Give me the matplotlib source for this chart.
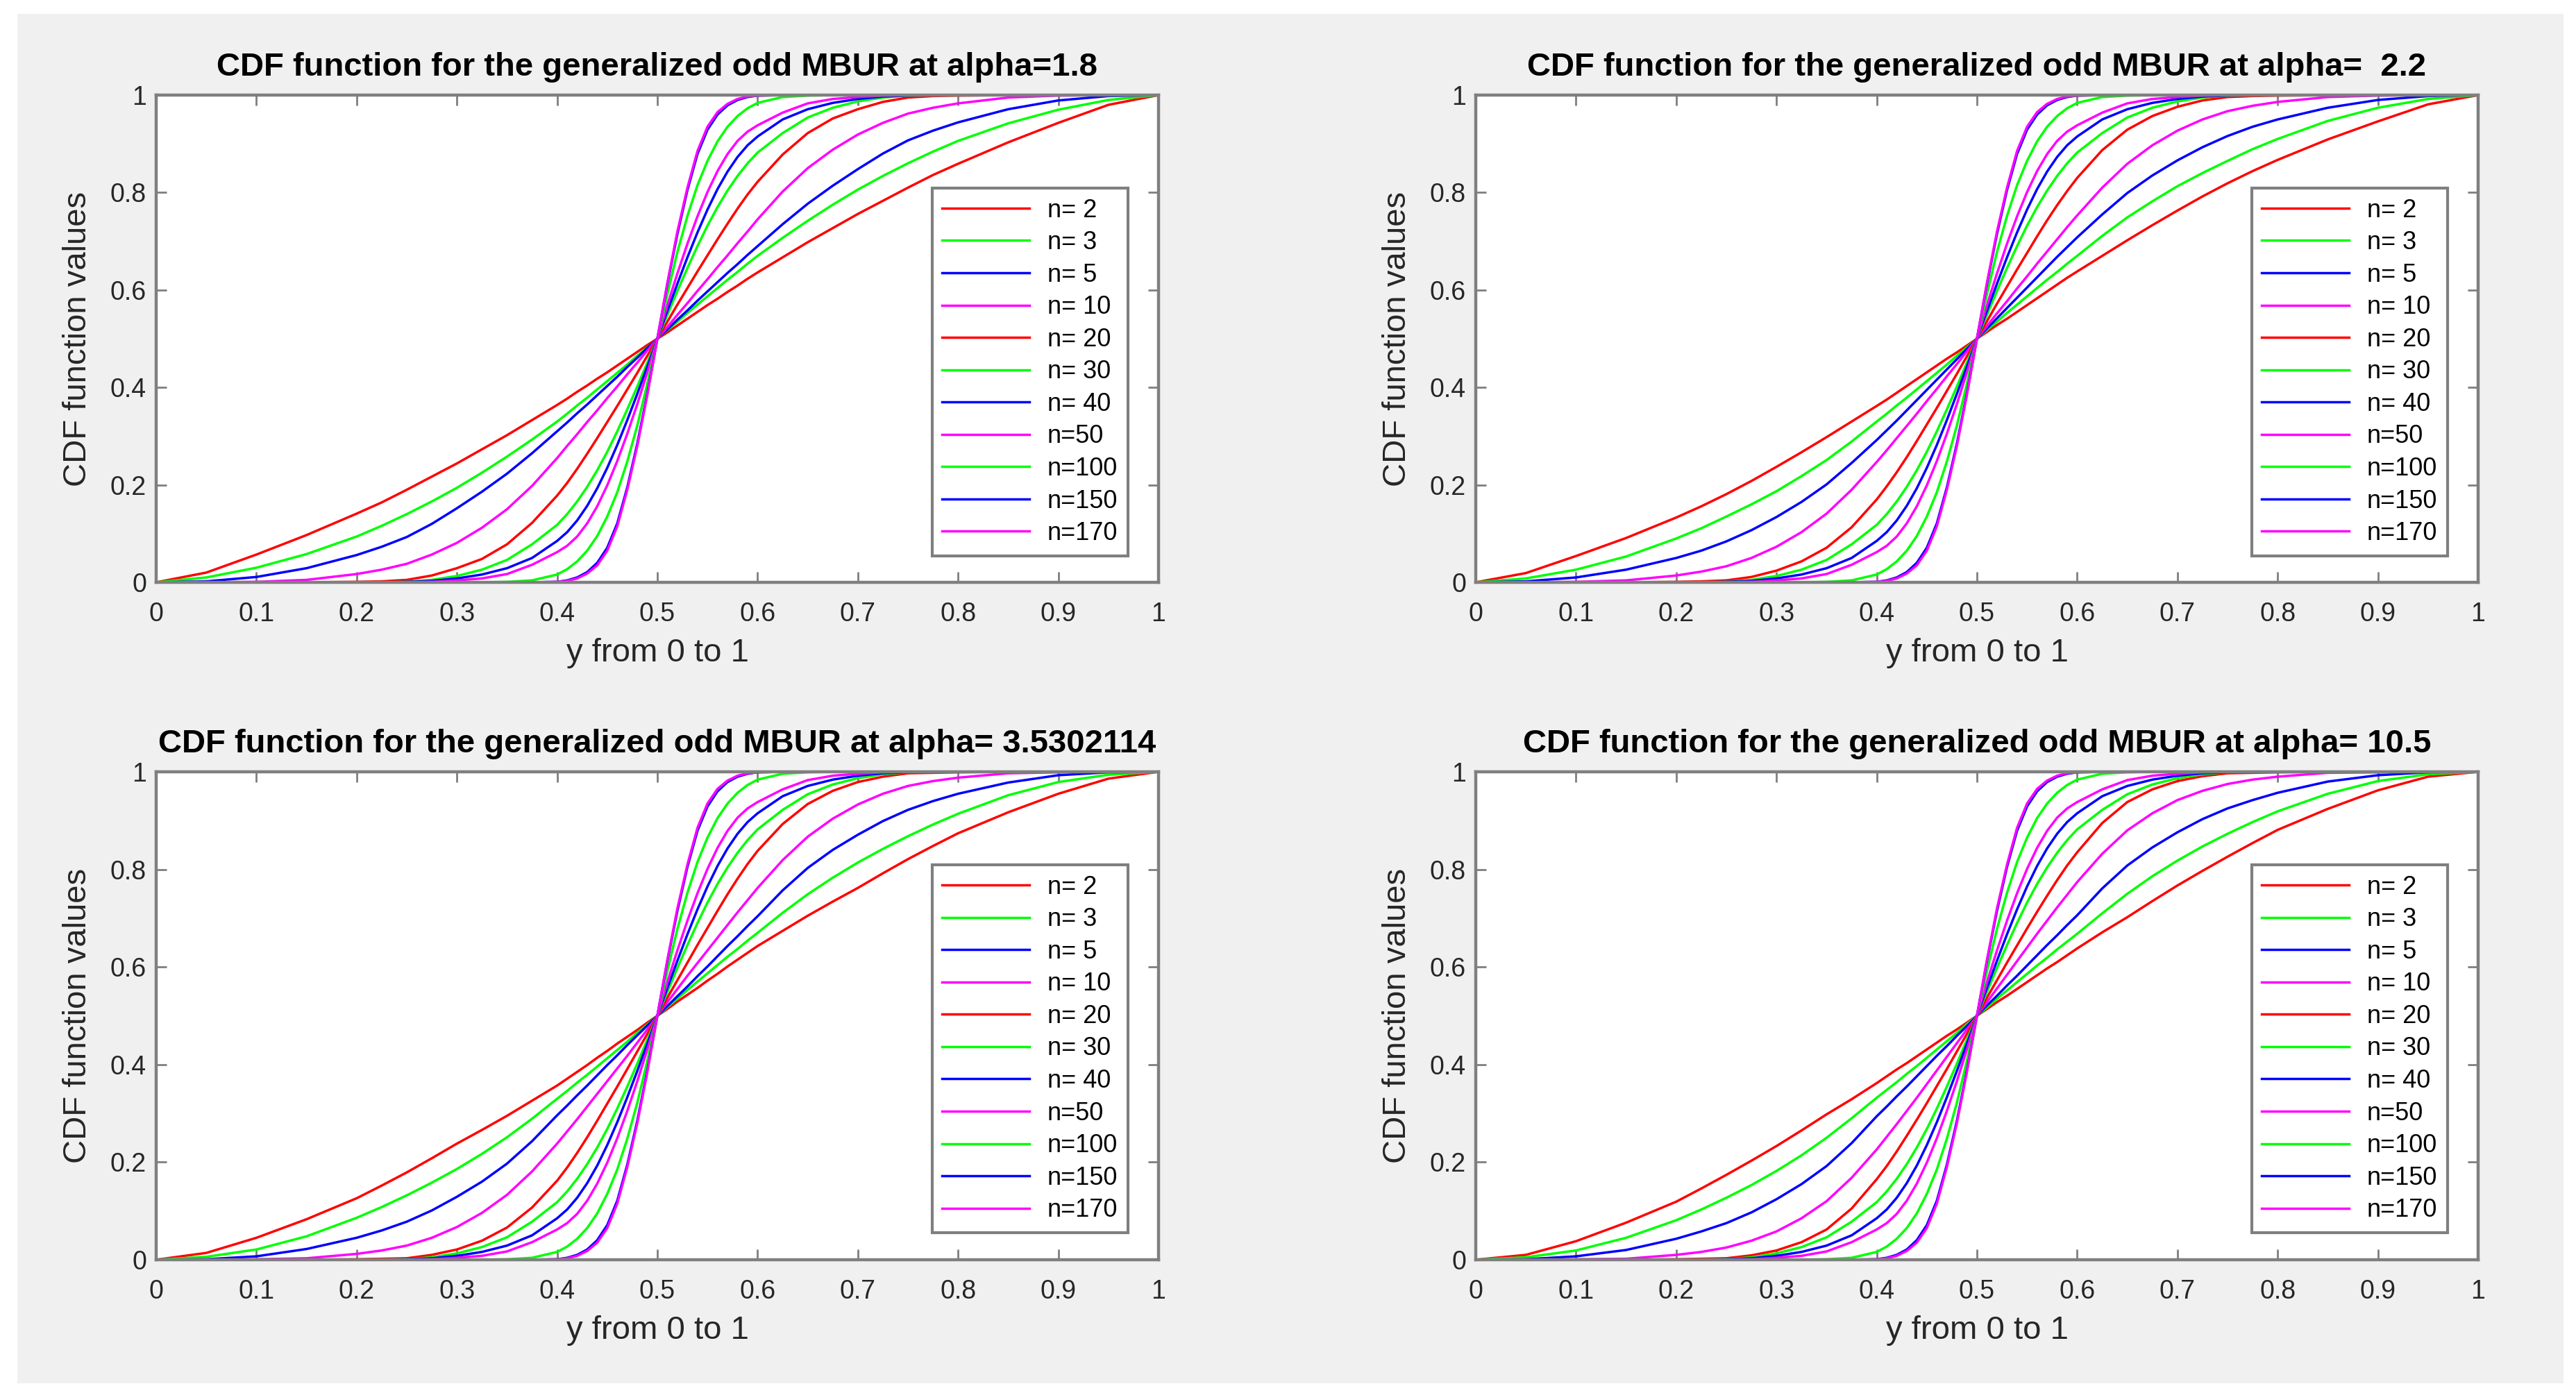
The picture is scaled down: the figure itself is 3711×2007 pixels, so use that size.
import numpy as np
import matplotlib
matplotlib.use('Agg')
import matplotlib.pyplot as plt
from matplotlib.patches import Rectangle

plt.rcParams['font.family'] = ['Liberation Sans', 'DejaVu Sans']

# n values and their MATLAB colours (r g b m cycling)
n_labels = ['n= 2', 'n= 3', 'n= 5', 'n= 10', 'n= 20', 'n= 30', 'n= 40',
            'n=50', 'n=100', 'n=150', 'n=170']
n_colors = ['#ff0000', '#00ff00', '#0000ff', '#ff00ff', '#ff0000', '#00ff00',
            '#0000ff', '#ff00ff', '#00ff00', '#0000ff', '#ff00ff']

titles = ['CDF function for the generalized odd MBUR at alpha=1.8',
          'CDF function for the generalized odd MBUR at alpha=  2.2',
          'CDF function for the generalized odd MBUR at alpha= 3.5302114',
          'CDF function for the generalized odd MBUR at alpha= 10.5']

x_ticks = [0, 0.1, 0.2, 0.3, 0.4, 0.5, 0.6, 0.7, 0.8, 0.9, 1]
x_tick_labels = ['0', '0.1', '0.2', '0.3', '0.4', '0.5', '0.6', '0.7', '0.8', '0.9', '1']
y_ticks = [0, 0.2, 0.4, 0.6, 0.8, 1]
y_tick_labels = ['0', '0.2', '0.4', '0.6', '0.8', '1']

x_half = np.array([0, .05, .1, .15, .2, .225, .25, .275, .3, .325, .35, .375, .4,
                   .41, .42, .43, .44, .45, .46, .47, .48, .49, .5])

# n = 2, 3, 5, 10, 20 -- differ a little between the panels
low_a18 = [
    [0, .020, .057, .097, .141, .164, .190, .217, .244, .273, .302, .333, .364, .377, .391, .404, .418, .431, .445, .459, .473, .487, .5],
    [0, .010, .030, .058, .094, .116, .140, .166, .194, .225, .258, .293, .330, .346, .363, .379, .396, .413, .430, .447, .465, .482, .5],
    [0, .002, .011, .029, .056, .073, .093, .120, .152, .186, .223, .265, .310, .328, .347, .365, .384, .403, .422, .442, .461, .481, .5],
    [0, 0, .001, .005, .017, .026, .038, .057, .081, .112, .150, .198, .255, .280, .304, .329, .353, .378, .402, .427, .451, .476, .5],
    [0, 0, 0, 0, .001, .002, .005, .014, .029, .048, .078, .122, .178, .204, .233, .264, .296, .329, .362, .396, .430, .465, .5],
]
low_a22 = [
    [0, .019, .054, .091, .133, .156, .181, .208, .237, .267, .298, .330, .362, .375, .389, .403, .417, .431, .445, .459, .472, .486, .5],
    [0, .008, .026, .053, .090, .111, .135, .160, .187, .218, .251, .289, .330, .346, .363, .379, .396, .413, .430, .447, .465, .482, .5],
    [0, .002, .010, .026, .050, .065, .084, .107, .134, .165, .201, .245, .292, .312, .332, .353, .374, .395, .416, .437, .458, .479, .5],
    [0, 0, .001, .004, .014, .022, .033, .050, .073, .103, .141, .190, .247, .271, .296, .321, .346, .372, .397, .423, .448, .474, .5],
    [0, 0, 0, 0, .001, .002, .004, .011, .024, .043, .071, .113, .170, .197, .226, .257, .290, .324, .358, .393, .428, .464, .5],
]
low_a353 = [
    [0, .014, .045, .083, .126, .152, .179, .208, .238, .266, .295, .326, .357, .371, .385, .399, .414, .428, .443, .457, .471, .486, .5],
    [0, .006, .021, .048, .086, .108, .132, .158, .186, .217, .251, .289, .330, .346, .363, .379, .396, .413, .430, .447, .465, .482, .5],
    [0, .001, .007, .022, .045, .060, .078, .101, .129, .160, .197, .243, .296, .316, .337, .357, .378, .399, .419, .440, .460, .480, .5],
    [0, 0, .001, .003, .012, .019, .029, .045, .067, .096, .133, .181, .238, .263, .288, .314, .340, .366, .392, .418, .445, .472, .5],
    [0, 0, 0, 0, .001, .002, .003, .010, .021, .039, .066, .107, .162, .189, .219, .251, .285, .320, .355, .391, .427, .463, .5],
]
low_a105 = [
    [0, .010, .038, .076, .119, .146, .174, .203, .233, .265, .298, .329, .362, .376, .390, .403, .417, .431, .445, .459, .472, .486, .5],
    [0, .005, .019, .045, .081, .103, .127, .153, .182, .214, .250, .290, .332, .348, .364, .381, .397, .414, .431, .448, .465, .483, .5],
    [0, .001, .007, .020, .043, .058, .075, .097, .124, .155, .192, .239, .294, .314, .335, .355, .376, .397, .418, .438, .459, .479, .5],
    [0, 0, .001, .002, .010, .016, .025, .039, .058, .085, .120, .168, .226, .252, .278, .305, .332, .360, .388, .416, .444, .472, .5],
    [0, 0, 0, 0, .001, .002, .003, .009, .019, .036, .062, .105, .165, .192, .222, .254, .287, .321, .356, .391, .427, .463, .5],
]

# n = 30, 40, 50, 100, 150, 170 -- look the same in all four panels
steep = [
    [0, 0, 0, 0, 0, 0, .001, .005, .013, .026, .046, .078, .118, .140, .166, .196, .230, .268, .310, .355, .402, .451, .5],
    [0, 0, 0, 0, 0, 0, .001, .003, .008, .016, .029, .050, .085, .103, .127, .157, .193, .235, .282, .333, .387, .443, .5],
    [0, 0, 0, 0, 0, 0, 0, .001, .004, .008, .017, .036, .062, .075, .094, .121, .156, .199, .249, .305, .366, .431, .5],
    [0, 0, 0, 0, 0, 0, 0, 0, 0, 0, .001, .004, .016, .027, .043, .065, .095, .135, .185, .248, .322, .408, .5],
    [0, 0, 0, 0, 0, 0, 0, 0, 0, 0, 0, 0, .001, .004, .010, .021, .040, .071, .121, .195, .285, .388, .5],
    [0, 0, 0, 0, 0, 0, 0, 0, 0, 0, 0, 0, .001, .003, .008, .018, .035, .065, .115, .190, .280, .385, .5],
]

panels = [low_a18 + steep, low_a22 + steep, low_a353 + steep, low_a105 + steep]


def full_curve(half):
    # the curves are point-symmetric about (0.5, 0.5): mirror the read half
    half = np.asarray(half)
    x = np.concatenate([x_half, 1 - x_half[-2::-1]])
    y = np.concatenate([half, 1 - half[-2::-1]])
    return x, y


W, H = 3712, 2007
fig = plt.figure(figsize=(W / 200, H / 200), dpi=200)
fig.patch.set_facecolor('white')
fig.patches.append(Rectangle((25 / W, 1 - 1993 / H), (3693 - 25) / W, (1993 - 20) / H,
                             transform=fig.transFigure, facecolor='#f0f0f0',
                             edgecolor='none', zorder=-1))

positions = [
    [225 / W, 1 - 839 / H, 1444 / W, 702 / H],
    [2126 / W, 1 - 839 / H, 1444 / W, 702 / H],
    [225 / W, 1 - 1815 / H, 1444 / W, 703 / H],
    [2126 / W, 1 - 1815 / H, 1444 / W, 703 / H],
]

gray = '#7f7f7f'
for pos, title, curves in zip(positions, titles, panels):
    ax = fig.add_axes(pos)
    for half, col, lab in zip(curves, n_colors, n_labels):
        x, y = full_curve(half)
        ax.plot(x, y, color=col, lw=1.25, label=lab)
    ax.set_xlim(0, 1)
    ax.set_ylim(0, 1)
    ax.set_xticks(x_ticks)
    ax.set_xticklabels(x_tick_labels)
    ax.set_yticks(y_ticks)
    ax.set_yticklabels(y_tick_labels)
    ax.tick_params(direction='in', length=5.5, width=1, color=gray,
                   labelsize=13.5, labelcolor='#262626', top=True, right=True)
    ax.tick_params(axis='x', pad=10)
    ax.tick_params(axis='y', pad=5)
    for sp in ax.spines.values():
        sp.set_color(gray)
        sp.set_linewidth(1.6)
    ax.set_title(title, fontsize=17, fontweight='bold', pad=10)
    ax.set_xlabel('y from 0 to 1', fontsize=17, color='#262626', labelpad=6)
    ax.set_ylabel('CDF function values', fontsize=17, color='#262626', labelpad=9)
    leg = ax.legend(loc='upper left', bbox_to_anchor=(0.774, 0.809), borderaxespad=0,
                    fontsize=13, handlelength=3.5, handletextpad=0.7,
                    labelspacing=0.32, borderpad=0.4, fancybox=False, framealpha=1)
    leg.get_frame().set_edgecolor(gray)
    leg.get_frame().set_linewidth(1.5)

fig.savefig('out.png', dpi=200, facecolor=fig.get_facecolor())
